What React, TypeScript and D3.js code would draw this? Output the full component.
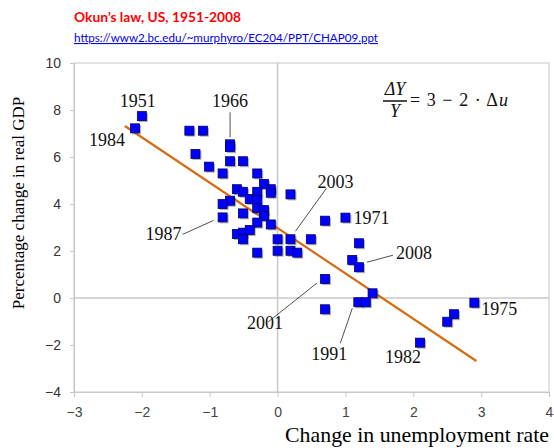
import * as d3 from "d3";
import React, { useEffect, useRef } from "react";

// change in unemployment rate (x) and % change in real GDP (y)
const unemploymentChange = [
  -2.0, -2.1, -1.3, -1.1, -0.7, -0.7, -1.21, -0.7, -0.51, -1.01, -0.81, -0.3,
  -0.6, -0.51, -0.2, -0.1, -0.1, -0.3, -0.41, -0.3, -0.7, -0.81, -0.3, -0.2,
  -0.2, -0.51, -0.81, -0.3, -0.1, -0.6, -0.51, -0.41, -0.51, -0.3, 0.0, 0.19,
  0.0, 0.19, 0.29, 0.19, 0.7, 1.0, 0.49, 1.2, 1.1, 1.2, 0.7, 1.4, 1.19, 1.3,
  0.7, 2.6, 2.5, 2.9, 2.1,
];
const gdpChange = [
  7.74, 7.22, 7.12, 7.12, 6.54, 6.42, 6.13, 5.82, 5.82, 5.59, 5.3, 5.3, 4.63,
  4.52, 4.85, 4.63, 4.48, 4.52, 4.21, 4.17, 4.14, 4.0, 3.82, 3.74, 3.49, 3.6,
  3.43, 3.21, 3.13, 2.72, 2.78, 2.89, 2.5, 1.93, 2.5, 2.5, 2.01, 2.01, 1.93,
  4.41, 3.29, 3.42, 2.5, 2.33, 1.62, 1.31, 0.81, 0.2, -0.18, -0.18, -0.48,
  -0.69, -1.01, -0.2, -1.9,
];

// fitted line end points
const fitU = [-2.25, 2.93];
const fitG = [7.32, -2.68];

const xTicks = [-3, -2, -1, 0, 1, 2, 3, 4];
const yTicks = [-4, -2, 0, 2, 4, 6, 8, 10];

// year labels: text, anchor point (data), label offset in px, leader line?
const yearLabels = [
  { year: "1951", u: -2.0, g: 7.74, dx: -4, dy: -9, anchor: "middle", leader: null },
  { year: "1984", u: -2.1, g: 7.22, dx: -28, dy: 18, anchor: "middle", leader: null },
  { year: "1966", u: -0.7, g: 6.54, dx: 0, dy: -37, anchor: "middle", leader: [0, -32, 0, -7] },
  { year: "1987", u: -0.81, g: 3.43, dx: -41, dy: 23, anchor: "end", leader: [-40, 17, -9, 3] },
  { year: "2003", u: 0.19, g: 2.5, dx: 45, dy: -51, anchor: "middle", leader: [36, -51, 5, -8] },
  { year: "1971", u: 1.0, g: 3.42, dx: 8, dy: 6, anchor: "start", leader: null },
  { year: "2008", u: 1.2, g: 1.31, dx: 37, dy: -8, anchor: "start", leader: [34, -12, 8, -5] },
  { year: "2001", u: 0.7, g: 0.81, dx: -60, dy: 50, anchor: "middle", leader: [-57, 43, -8, 4] },
  { year: "1991", u: 1.19, g: -0.18, dx: -29, dy: 58, anchor: "middle", leader: [-18, 41, -6, 6] },
  { year: "1982", u: 2.1, g: -1.9, dx: -17, dy: 20, anchor: "middle", leader: null },
  { year: "1975", u: 2.9, g: -0.2, dx: 7, dy: 12, anchor: "start", leader: null },
];

const App = () => {
  const svgRef = useRef(null);
  const w = 554;
  const h = 448;

  useEffect(() => {
    const svg = d3.select(svgRef.current);
    svg.selectAll("*").remove();

    const x = d3.scaleLinear().domain([-3, 4]).range([74, 549]);
    const y = d3.scaleLinear().domain([-4, 10]).range([392, 63]);
    const serif = "'Liberation Serif', 'DejaVu Serif', serif";
    const sans = "'Liberation Sans', Arial, sans-serif";

    // title and source link
    svg.append("text")
      .attr("x", 74).attr("y", 22)
      .attr("font-family", "Lato, 'Open Sans', sans-serif")
      .attr("font-weight", "bold").attr("font-size", 14)
      .attr("fill", "#ff0000")
      .attr("textLength", 167).attr("lengthAdjust", "spacingAndGlyphs")
      .text("Okun\u2019s law, US, 1951-2008");
    svg.append("text")
      .attr("x", 74).attr("y", 42)
      .attr("font-family", "Lato, 'Open Sans', sans-serif")
      .attr("font-size", 11)
      .attr("fill", "#0000ee")
      .attr("text-decoration", "underline")
      .attr("textLength", 304).attr("lengthAdjust", "spacingAndGlyphs")
      .text("https://www2.bc.edu/~murphyro/EC204/PPT/CHAP09.ppt");

    // plot frame
    svg.append("rect")
      .attr("x", x(-3)).attr("y", y(10))
      .attr("width", x(4) - x(-3)).attr("height", y(-4) - y(10))
      .attr("fill", "none").attr("stroke", "#d0d0d0").attr("stroke-width", 1.2);

    // zero lines
    svg.append("line")
      .attr("x1", x(0)).attr("x2", x(0)).attr("y1", y(10)).attr("y2", y(-4))
      .attr("stroke", "#c8c8c8").attr("stroke-width", 1.5);
    svg.append("line")
      .attr("x1", x(-3)).attr("x2", x(4)).attr("y1", y(0)).attr("y2", y(0))
      .attr("stroke", "#c8c8c8").attr("stroke-width", 1.5);

    // axes
    const xAxis = d3.axisBottom(x).tickValues(xTicks).tickSize(5).tickPadding(10).tickFormat(d3.format("d"));
    const yAxis = d3.axisLeft(y).tickValues(yTicks).tickSize(4).tickPadding(9).tickFormat(d3.format("d"));
    const gx = svg.append("g").attr("transform", `translate(0,${y(-4)})`).call(xAxis);
    const gy = svg.append("g").attr("transform", `translate(${x(-3)},0)`).call(yAxis);
    [gx, gy].forEach((g) => {
      g.select(".domain").attr("stroke", "#c8c8c8").attr("stroke-width", 1.2);
      g.selectAll(".tick line").attr("stroke", "#c8c8c8");
      g.selectAll(".tick text")
        .attr("font-family", sans).attr("font-size", 14).attr("fill", "#333");
    });
    gx.selectAll(".tick text").attr("fill", "#444");

    // axis titles
    svg.append("text")
      .attr("transform", `translate(24,203) rotate(-90)`)
      .attr("text-anchor", "middle")
      .attr("font-family", serif).attr("font-size", 17)
      .text("Percentage change in real GDP");
    svg.append("text")
      .attr("x", x(4)).attr("y", 442)
      .attr("text-anchor", "end")
      .attr("font-family", serif).attr("font-size", 21)
      .attr("textLength", 264).attr("lengthAdjust", "spacingAndGlyphs")
      .text("Change in unemployment rate");

    // fitted line
    const line = d3.line<number>().x((d, i) => x(fitU[i])).y((d) => y(d));
    svg.append("path")
      .attr("d", line(fitG))
      .attr("fill", "none").attr("stroke", "#d56c10").attr("stroke-width", 2.2);

    // points with drop shadow
    const pts = unemploymentChange.map((u, i) => ({ u, g: gdpChange[i] }));
    const s = 9;
    svg.append("g").selectAll("rect")
      .data(pts).enter().append("rect")
      .attr("x", (d) => x(d.u) - s / 2 + 1.5).attr("y", (d) => y(d.g) - s / 2 + 1.5)
      .attr("width", s).attr("height", s)
      .attr("fill", "#555").attr("opacity", 0.45);
    svg.append("g").selectAll("rect")
      .data(pts).enter().append("rect")
      .attr("x", (d) => x(d.u) - s / 2).attr("y", (d) => y(d.g) - s / 2)
      .attr("width", s).attr("height", s)
      .attr("fill", "#0000ff").attr("stroke", "#00006a").attr("stroke-width", 0.8);

    // year labels with leaders
    const lab = svg.append("g");
    yearLabels.forEach((l) => {
      const px = x(l.u);
      const py = y(l.g);
      if (l.leader) {
        lab.append("line")
          .attr("x1", px + l.leader[0]).attr("y1", py + l.leader[1])
          .attr("x2", px + l.leader[2]).attr("y2", py + l.leader[3])
          .attr("stroke", "#222").attr("stroke-width", 0.8);
      }
      lab.append("text")
        .attr("x", px + l.dx).attr("y", py + l.dy)
        .attr("text-anchor", l.anchor)
        .attr("font-family", serif).attr("font-size", 18)
        .attr("fill", "#111")
        .text(l.year);
    });

    // equation
    const eq = svg.append("g").attr("font-family", serif).attr("font-size", 18).attr("fill", "#111");
    eq.append("text").attr("x", 395).attr("y", 95).attr("text-anchor", "middle")
      .attr("font-style", "italic").text("\u0394Y");
    eq.append("line").attr("x1", 383).attr("x2", 407).attr("y1", 101).attr("y2", 101)
      .attr("stroke", "#111").attr("stroke-width", 1.5);
    eq.append("text").attr("x", 395).attr("y", 117).attr("text-anchor", "middle")
      .attr("font-style", "italic").text("Y");
    const rhs = eq.append("text").attr("x", 410).attr("y", 106)
      .attr("textLength", 98).attr("lengthAdjust", "spacing");
    rhs.append("tspan").text("= 3 \u2212 2 \u00b7 \u0394");
    rhs.append("tspan").attr("font-style", "italic").text("u");
  });

  return (
    <svg ref={svgRef} width={w} height={h}
      style={{ position: "absolute", left: 0, top: 0, background: "#fff" }} />
  );
};

export default App;
